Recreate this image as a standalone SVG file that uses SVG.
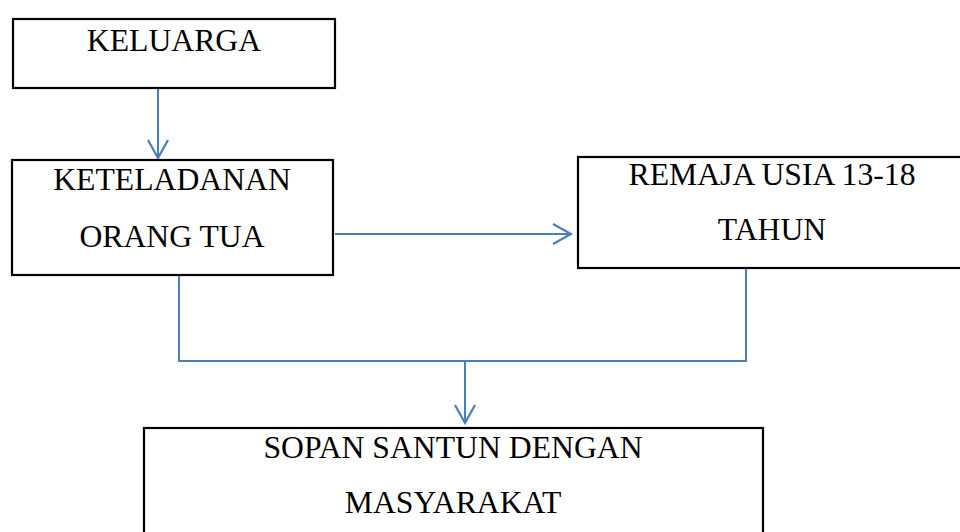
<svg xmlns="http://www.w3.org/2000/svg" width="960" height="532" viewBox="0 0 960 532">
<style>
.box{fill:#fff;stroke:#000;stroke-width:2.2}
.t{font-family:"Liberation Serif","Times New Roman",serif;font-size:31.7px;fill:#000;text-anchor:middle}
.c{fill:none;stroke:#4A7EBB;stroke-width:2}
.ah{fill:none;stroke:#4A7EBB;stroke-width:2.2}
</style>
<rect width="960" height="532" fill="#fff"/>
<g id="connectors">
<line class="c" x1="158" y1="88" x2="158" y2="158"/>
<polyline class="ah" points="148,140 158,158 168,140"/>
<line class="c" x1="335" y1="234" x2="571" y2="234"/>
<polyline class="ah" points="553,224 571,234 553,244"/>
<polyline class="c" points="179,275 179,361 746,361 746,263" stroke-width="1.6"/>
<line class="c" x1="465" y1="361" x2="465" y2="423"/>
<polyline class="ah" points="455,405 465,423 475,405"/>
</g>
<g id="keluarga">
<rect class="box" x="13" y="19" width="322" height="69"/>
<text class="t" x="174" y="51">KELUARGA</text>
</g>
<g id="keteladanan">
<rect class="box" x="12" y="160" width="321" height="115"/>
<text class="t" x="172" y="190">KETELADANAN</text>
<text class="t" x="172" y="247">ORANG TUA</text>
</g>
<g id="remaja">
<rect class="box" x="578" y="157" width="390" height="111"/>
<text class="t" x="772" y="185">REMAJA USIA 13-18</text>
<text class="t" x="772" y="240">TAHUN</text>
</g>
<g id="sopan">
<rect class="box" x="144" y="428" width="619" height="120"/>
<text class="t" x="453" y="458">SOPAN SANTUN DENGAN</text>
<text class="t" x="453" y="513">MASYARAKAT</text>
</g>
</svg>
